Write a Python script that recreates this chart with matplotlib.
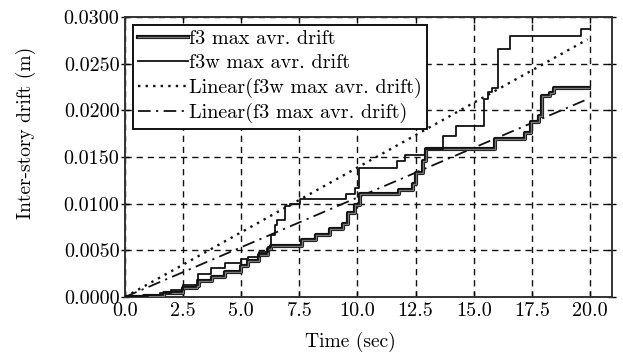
import matplotlib
matplotlib.use("Agg")
import matplotlib.pyplot as plt
import matplotlib.patheffects as pe
from matplotlib.ticker import FormatStrFormatter, MultipleLocator

# step records: time of each jump (s) and drift after it (m)
time_f3 = [0.0, 0.8, 1.7, 2.5, 3.1, 3.2, 3.75, 4.3, 5.0, 5.3, 5.75, 6.15, 6.3,
           7.6, 8.2, 8.8, 9.4, 9.6, 9.9, 10.1, 11.8, 12.4, 12.5, 12.8, 12.95,
           15.9, 17.2, 17.45, 17.8, 17.92, 18.3, 18.45, 19.98]
drift_f3 = [0.0, 0.0001, 0.0004, 0.0010, 0.0012, 0.0017, 0.0021, 0.0027, 0.0033,
            0.0039, 0.0045, 0.0051, 0.0055, 0.0061, 0.0066, 0.0073, 0.0078,
            0.0090, 0.0099, 0.0110, 0.0115, 0.0121, 0.0133, 0.0146, 0.0159,
            0.0169, 0.0176, 0.0188, 0.0194, 0.0215, 0.0219, 0.0224, 0.0224]

time_f3w = [0.0, 0.5, 1.0, 1.5, 2.0, 2.5, 3.1, 3.15, 3.7, 4.3, 5.0, 5.3, 5.75,
            6.15, 6.3, 6.45, 6.55, 6.9, 7.1, 7.55, 9.5, 9.9, 10.05, 11.7, 12.05,
            12.9, 13.7, 14.25, 15.45, 15.6, 15.8, 16.05, 16.55, 19.6, 19.95]
drift_f3w = [0.0, 0.0001, 0.0002, 0.0004, 0.0008, 0.0013, 0.0018, 0.0025,
             0.0031, 0.0036, 0.0041, 0.0043, 0.0048, 0.0054, 0.0066, 0.0077,
             0.0082, 0.0098, 0.0100, 0.0105, 0.0110, 0.0117, 0.0138, 0.0146,
             0.0152, 0.0159, 0.0173, 0.0183, 0.0212, 0.0220, 0.0224, 0.0266,
             0.0280, 0.0287, 0.0287]

# linear trend lines (start / end)
trend_time = [0.0, 19.9]
trend_f3w = [0.0, 0.0276]
trend_f3 = [0.0, 0.0212]

plt.rcParams["font.family"] = ["cmr10", "DejaVu Serif"]
plt.rcParams["axes.formatter.use_mathtext"] = True
plt.rcParams["mathtext.fontset"] = "cm"

fig = plt.figure(figsize=(6.23, 3.52), dpi=100)
ax = fig.add_axes([0.2006, 0.1563, 0.7817, 0.7955])

ax.step(time_f3, drift_f3, where="post", color="#777777", linewidth=1.0,
        label="f3 max avr. drift", zorder=4,
        path_effects=[pe.Stroke(linewidth=3.0, foreground="#111111"), pe.Normal()])
ax.step(time_f3w, drift_f3w, where="post", color="#111111", linewidth=1.3,
        label="f3w max avr. drift", zorder=5)
ax.plot(trend_time, trend_f3w, color="#111111", linewidth=1.7,
        linestyle=(0, (1.0, 2.2)), label="Linear(f3w max avr. drift)", zorder=3)
ax.plot(trend_time, trend_f3, color="#111111", linewidth=1.3,
        linestyle=(0, (7, 3, 1.2, 3)), label="Linear(f3 max avr. drift)", zorder=3)

ax.set_xlim(0, 20.95)
ax.set_ylim(0, 0.03)
ax.xaxis.set_major_locator(MultipleLocator(2.5))
ax.yaxis.set_major_locator(MultipleLocator(0.005))
ax.xaxis.set_major_formatter(FormatStrFormatter("%.1f"))
ax.yaxis.set_major_formatter(FormatStrFormatter("%.4f"))

ax.grid(True, color="#111111", linestyle=(0, (4.5, 3.5)), linewidth=1.0)
ax.tick_params(axis="x", direction="in", top=True, length=4, width=1,
               labelsize=14.5, pad=4)
ax.tick_params(axis="y", direction="inout", right=True, length=6, width=1,
               labelsize=14.5, pad=1)
for s in ax.spines.values():
    s.set_linewidth(1.4)
    s.set_color("#333333")

ax.set_xlabel("Time (sec)", fontsize=14)
ax.set_ylabel("Inter-story drift (m)", fontsize=14)
ax.xaxis.set_label_coords(0.462, -0.125)
ax.yaxis.set_label_coords(-0.182, 0.585)

leg = ax.legend(loc="upper left", bbox_to_anchor=(0.0164, 0.971), fontsize=14.5,
                frameon=True, fancybox=False, framealpha=1, edgecolor="#111111",
                handlelength=2.5, handletextpad=0.05, labelspacing=0.28,
                borderpad=0.25, borderaxespad=0.0)
leg.get_frame().set_linewidth(1.4)

fig.savefig("out.png", dpi=100)
